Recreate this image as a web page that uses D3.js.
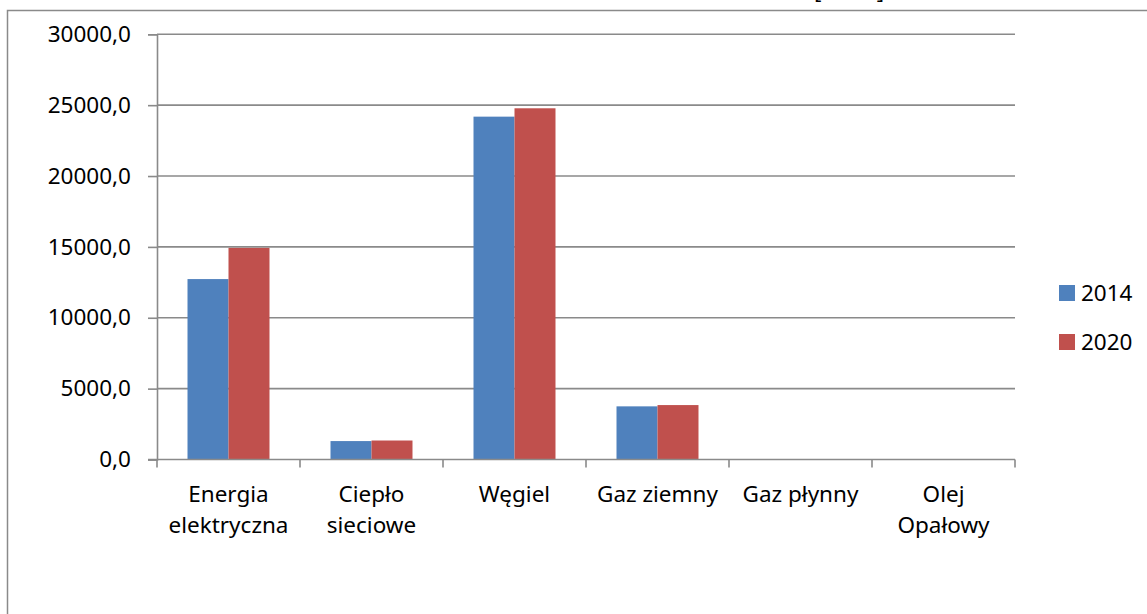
<!DOCTYPE html>
<html>
<head>
<meta charset="utf-8">
<script src="https://cdn.jsdelivr.net/npm/d3@7/dist/d3.min.js"></script>
<style>
  body { margin: 0; background: #fff; }
  svg { display: block; font-family: "Noto Sans", "Open Sans", sans-serif; }
</style>
</head>
<body>
<svg id="chart" width="1147" height="614"></svg>
<script>
const categories = ["Energia elektryczna", "Ciepło sieciowe", "Węgiel", "Gaz ziemny", "Gaz płynny", "Olej Opałowy"];
const categoryLines = [["Energia", "elektryczna"], ["Ciepło", "sieciowe"], ["Węgiel"], ["Gaz ziemny"], ["Gaz płynny"], ["Olej", "Opałowy"]];
const seriesNames = ["2014", "2020"];
const values2014 = [12730, 1300, 24190, 3750, 0, 0];
const values2020 = [14930, 1340, 24780, 3840, 0, 0];
const yTicks = [0, 5000, 10000, 15000, 20000, 25000, 30000];
const colors = ["#4F81BD", "#C0504D"];

const svg = d3.select("#chart");
const fontSize = 22.5;
const gridColor = "#8a8a8a";

// outer chart border (extends beyond the visible area)
svg.append("rect")
  .attr("x", 7.5).attr("y", 10.5)
  .attr("width", 1200).attr("height", 700)
  .attr("fill", "none").attr("stroke", gridColor).attr("stroke-width", 1.5);

// partially visible title (only bracket descenders show)
svg.append("text")
  .attr("x", 814).attr("y", -1)
  .attr("font-size", fontSize)
  .attr("fill", "#000")
  .text("[MWh]");

const x = d3.scaleBand().domain(categories).range([157, 1015]).paddingInner(0).paddingOuter(0);
const xs = d3.scaleBand().domain(seriesNames).range([0, x.bandwidth()]).paddingInner(0).paddingOuter(0.744);
const y = d3.scaleLinear().domain([0, 30000]).range([459.5, 34.3]);

// gridlines
svg.append("g").selectAll("line")
  .data(yTicks.filter(d => d > 0))
  .join("line")
  .attr("x1", 157).attr("x2", 1015)
  .attr("y1", d => y(d)).attr("y2", d => y(d))
  .attr("stroke", gridColor).attr("stroke-width", 1.6);

// bars
const data = categories.map((c, i) => ({ cat: c, vals: [values2014[i], values2020[i]] }));
const groups = svg.append("g").selectAll("g")
  .data(data).join("g")
  .attr("transform", d => `translate(${x(d.cat)},0)`);
groups.selectAll("rect")
  .data(d => d.vals.map((v, j) => ({ v, s: seriesNames[j], j })))
  .join("rect")
  .attr("x", d => xs(d.s))
  .attr("width", xs.bandwidth())
  .attr("y", d => y(d.v))
  .attr("height", d => y(0) - y(d.v))
  .attr("fill", d => colors[d.j]);

// y axis
const yAxis = d3.axisLeft(y)
  .tickValues(yTicks)
  .tickSize(9)
  .tickPadding(17)
  .tickFormat(d => d3.format(".1f")(d).replace(".", ","));
const gy = svg.append("g").attr("transform", "translate(157,0)").call(yAxis);
gy.select(".domain").attr("stroke", gridColor).attr("stroke-width", 1.6);
gy.selectAll(".tick line").attr("stroke", gridColor).attr("stroke-width", 1.6);
gy.selectAll(".tick text").attr("font-size", fontSize).attr("fill", "#000")
  .attr("font-family", "'Noto Sans', 'Open Sans', sans-serif");

// x axis
const gx = svg.append("g");
gx.append("line")
  .attr("x1", 148).attr("x2", 1015)
  .attr("y1", y(0)).attr("y2", y(0))
  .attr("stroke", gridColor).attr("stroke-width", 1.6);
const bounds = categories.map(c => x(c)).concat([x.range()[1]]);
gx.selectAll("line.tk").data(bounds).join("line").attr("class", "tk")
  .attr("x1", d => d).attr("x2", d => d)
  .attr("y1", y(0)).attr("y2", y(0) + 8)
  .attr("stroke", gridColor).attr("stroke-width", 1.6);

const labels = gx.selectAll("text").data(categories).join("text")
  .attr("text-anchor", "middle")
  .attr("font-size", fontSize)
  .attr("fill", "#000");
labels.each(function(c, i) {
  const t = d3.select(this);
  categoryLines[i].forEach((line, k) => {
    t.append("tspan")
      .attr("x", x(c) + x.bandwidth() / 2)
      .attr("y", 502 + k * 31)
      .text(line);
  });
});

// legend
const legend = svg.append("g");
seriesNames.forEach((s, i) => {
  legend.append("rect")
    .attr("x", 1059).attr("y", 285 + i * 49)
    .attr("width", 16).attr("height", 16)
    .attr("fill", colors[i]);
  legend.append("text")
    .attr("x", 1081).attr("y", 301 + i * 49)
    .attr("font-size", fontSize).attr("fill", "#000")
    .text(s);
});
</script>
</body>
</html>
